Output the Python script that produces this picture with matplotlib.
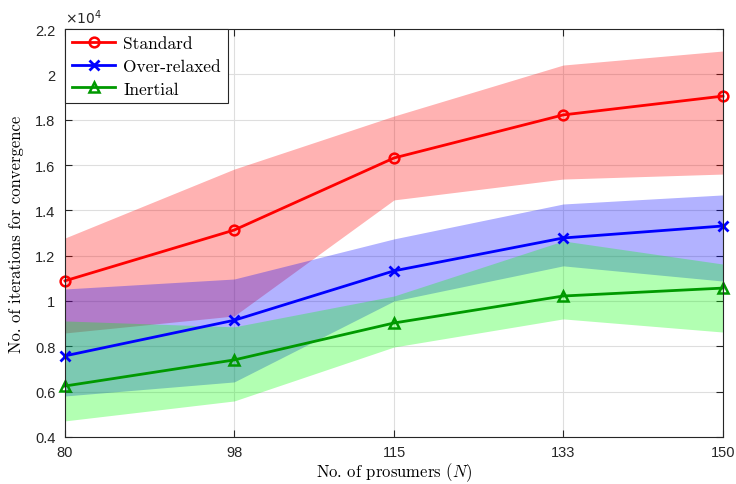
import matplotlib
matplotlib.use("Agg")
import matplotlib.pyplot as plt
from matplotlib.ticker import FuncFormatter, FixedLocator

N = [80, 98, 115, 133, 150]

std_mean = [10890, 13130, 16310, 18210, 19040]
std_low = [8590, 9340, 14460, 15380, 15600]
std_high = [12780, 15820, 18160, 20410, 21030]

ovr_mean = [7580, 9150, 11330, 12780, 13310]
ovr_low = [5810, 6430, 10000, 11550, 10880]
ovr_high = [10530, 10970, 12740, 14280, 14680]

ine_mean = [6250, 7400, 9030, 10220, 10570]
ine_low = [4710, 5590, 7970, 9210, 8630]
ine_high = [9120, 8860, 10220, 12650, 11630]

y_ticks = [4000, 6000, 8000, 10000, 12000, 14000, 16000, 18000, 20000, 22000]
x_ticks = [80, 98, 115, 133, 150]

plt.rcParams['mathtext.fontset'] = 'cm'

fig = plt.figure(figsize=(7.36, 4.85), dpi=100)
ax = fig.add_axes([65/736, 1-438/485, (723-65)/736, (438-30)/485])

ax.fill_between(N, std_low, std_high, color=(1, 0, 0), alpha=0.3, linewidth=0, zorder=1)
ax.fill_between(N, ovr_low, ovr_high, color=(0, 0, 1), alpha=0.3, linewidth=0, zorder=1)
ax.fill_between(N, ine_low, ine_high, color=(0, 1, 0), alpha=0.3, linewidth=0, zorder=1)

ax.plot(N, std_mean, color=(1, 0, 0), lw=2, marker='o', ms=7, mfc='none', mew=1.8,
        label='Standard', zorder=3, clip_on=False)
ax.plot(N, ovr_mean, color=(0, 0, 1), lw=2, marker='x', ms=7, mew=2,
        label='Over-relaxed', zorder=3, clip_on=False)
ax.plot(N, ine_mean, color=(0, 0.6, 0), lw=2, marker='^', ms=7, mfc='none', mew=1.8,
        label='Inertial', zorder=3, clip_on=False)

ax.set_xlim(80, 150)
ax.set_ylim(4000, 22000)
ax.xaxis.set_major_locator(FixedLocator(x_ticks))
ax.yaxis.set_major_locator(FixedLocator(y_ticks))
ax.yaxis.set_major_formatter(FuncFormatter(lambda v, p: '%g' % (v / 1e4)))

ax.grid(True, color=(0.87, 0.87, 0.87), lw=0.8)
ax.set_axisbelow(True)
for s in ax.spines.values():
    s.set_color((0.15, 0.15, 0.15))
    s.set_linewidth(0.8)
    s.set_zorder(5)
ax.tick_params(direction='in', top=True, right=True, length=5, width=0.8,
               color=(0.15, 0.15, 0.15), labelsize=10.5, labelcolor=(0.15, 0.15, 0.15))
ax.tick_params(axis='x', pad=6)
ax.tick_params(axis='y', pad=7)
for lbl in ax.get_xticklabels() + ax.get_yticklabels():
    lbl.set_family('Liberation Sans')

ax.set_xlabel(r'No. of prosumers ($N$)', fontsize=12, family='cmr10', labelpad=1)
ax.set_ylabel('No. of iterations for convergence', fontsize=12, family='cmr10', labelpad=8)

ax.text(0.0, 1.008, r'$\times10^{4}$', transform=ax.transAxes, ha='left', va='bottom',
        fontsize=10, color=(0.15, 0.15, 0.15), family='Liberation Sans',
        math_fontfamily='dejavusans')

leg = ax.legend(loc='upper left', bbox_to_anchor=(0, 1), borderaxespad=0,
                prop={'family': 'cmr10', 'size': 12.5}, handlelength=2.5,
                fancybox=False, framealpha=1, edgecolor=(0.15, 0.15, 0.15),
                borderpad=0.4, labelspacing=0.42, handletextpad=0.45)
leg.get_frame().set_linewidth(0.8)
leg.set_zorder(6)

fig.savefig('out.png', dpi=100)
